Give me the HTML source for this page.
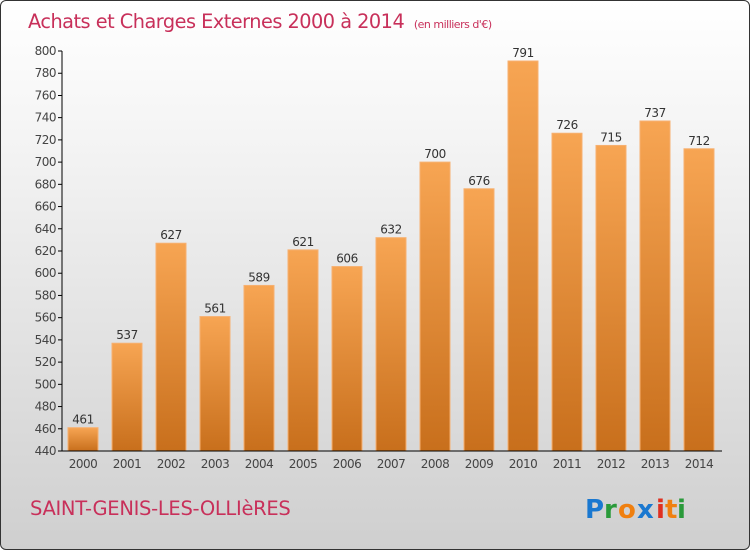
<!DOCTYPE html>
<html><head><meta charset="utf-8"><style>
body{margin:0}
#c{position:relative;width:748px;height:548px;border:1px solid #333;border-radius:6px;background:linear-gradient(#ffffff,#f4f4f4 25%,#cfcfcf);overflow:hidden;font-family:"DejaVu Sans","Liberation Sans",sans-serif}
</style></head><body>
<div id="c">
<svg width="748" height="548">
<defs><linearGradient id="bg" x1="0" y1="0" x2="0" y2="1"><stop offset="0" stop-color="#f7a553"/><stop offset="1" stop-color="#c86f1c"/></linearGradient></defs>
<text x="27" y="27" font-size="19.3" fill="#c8305a" style="font-family:'DejaVu Sans',sans-serif;letter-spacing:-0.5px">Achats et Charges Externes 2000 à 2014 <tspan font-size="11" dx="4">(en milliers d'€)</tspan></text>
<g id="yax"></g><g id="bars"></g><g id="xax"></g>
<text x="29" y="514" font-size="19.5" fill="#c8305a" style="letter-spacing:-0.3px">SAINT-GENIS-LES-OLLIèRES</text>
<g font-size="26" font-weight="bold" style="font-family:'DejaVu Sans',sans-serif">
<text x="584" y="517" fill="#1a78d0">P</text><text x="603" y="517" fill="#2a9a3a">r</text><text x="617" y="517" fill="#f08010">o</text><text x="636" y="517" fill="#1a78d0">x</text><text x="655" y="517" fill="#e03020">i</text><text x="664" y="517" fill="#f08010">t</text><text x="676" y="517" fill="#2a9a3a">i</text>
</g>
</svg></div>
<script>
const years=["2000","2001","2002","2003","2004","2005","2006","2007","2008","2009","2010","2011","2012","2013","2014"];
const values=[461,537,627,561,589,621,606,632,700,676,791,726,715,737,712];
const yTicks=[440,460,480,500,520,540,560,580,600,620,640,660,680,700,720,740,760,780,800];
const NS="http://www.w3.org/2000/svg";
const y=v=>450-(v-440)*400/360;
const x=i=>82+i*44;
function mk(t,a,p,txt){const e=document.createElementNS(NS,t);for(const k in a)e.setAttribute(k,a[k]);if(txt!==undefined)e.textContent=txt;p.appendChild(e);return e;}
const ya=document.getElementById('yax'),ba=document.getElementById('bars'),xa=document.getElementById('xax');
let l=mk('line',{x1:61,y1:50,x2:61,y2:450,stroke:'#000'},ya);


yTicks.forEach(v=>{
 mk('line',{x1:57,y1:y(v),x2:61,y2:y(v),stroke:'#000'},ya);
 const t=mk('text',{x:55,y:y(v)+4,'text-anchor':'end','font-size':12,fill:'#444','letter-spacing':'-0.5'},ya,v);
 
 
});
values.forEach((v,i)=>{
 const r=mk('rect',{x:x(i)-15,y:y(v),width:30,height:450-y(v),fill:'url(#bg)',stroke:'#f7b070','stroke-width':1},ba);
 
 
 const t=mk('text',{x:x(i),y:y(v)-4,'text-anchor':'middle','font-size':12,fill:'#333','letter-spacing':'-0.5'},ba,v);
 
 
 const xt=mk('text',{x:x(i),y:467,'text-anchor':'middle','font-size':12,fill:'#444','letter-spacing':'-0.5'},xa,years[i]);
 
 
});
l=mk('line',{x1:61,y1:450,x2:721,y2:450,stroke:'#000'},xa);


</script>
</body></html>
